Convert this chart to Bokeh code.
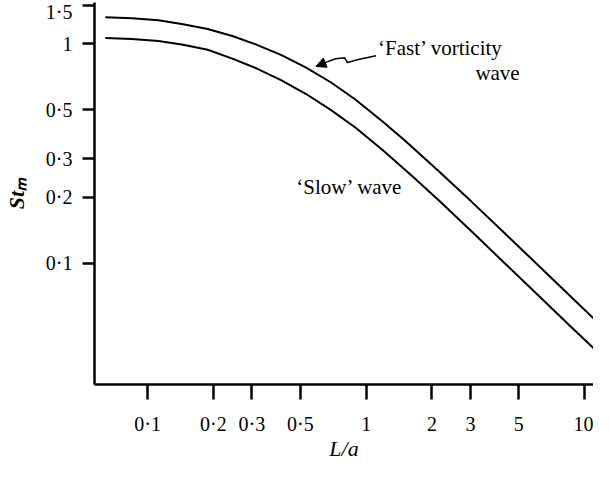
from bokeh.plotting import figure
from bokeh.models import FixedTicker, CustomJSTickFormatter, Range1d, Arrow, NormalHead
from bokeh.core.properties import value
from bokeh.embed import file_html
from bokeh.resources import INLINE

# 'Fast' vorticity wave (upper curve)
fast_L = [0.0640, 0.0847, 0.1121, 0.1453, 0.1883, 0.2440, 0.3162, 0.4099, 0.5312, 0.6884,
          0.8923, 1.193, 1.499, 2.132, 3.034, 4.272, 6.078, 8.560, 11.33]
fast_St = [1.322, 1.308, 1.281, 1.229, 1.168, 1.086, 0.990, 0.888, 0.780, 0.6686,
           0.558, 0.4422, 0.3635, 0.2651, 0.1912, 0.1383, 0.0988, 0.0712, 0.0545]

# 'Slow' wave (lower curve)
slow_L = [0.0640, 0.0847, 0.1121, 0.1453, 0.1883, 0.2440, 0.3162, 0.4099, 0.5312, 0.6884,
          0.8923, 1.193, 1.628, 2.154, 3.034, 4.272, 6.078, 8.560, 11.33]
slow_St = [1.064, 1.053, 1.031, 0.990, 0.940, 0.856, 0.772, 0.682, 0.591, 0.5006,
           0.4158, 0.3279, 0.2496, 0.1936, 0.1400, 0.1010, 0.0722, 0.0520, 0.0399]

x_ticks = [0.1, 0.2, 0.3, 0.5, 1, 2, 3, 5, 10]
x_tick_labels = ["0·1", "0·2", "0·3", "0·5", "1", "2", "3", "5", "10"]
y_ticks = [0.1, 0.2, 0.3, 0.5, 1, 1.5]
y_tick_labels = ["0·1", "0·2", "0·3", "0·5", "1", "1·5"]

x_title = "L/a"
y_title = "Stₘ"

ann_text = ["‘Fast’ vorticity", "wave", "‘Slow’ wave"]
ann_x = [1.133, 3.162, 0.4788]
ann_y = [0.9596, 0.7337, 0.2238]

arrow_x = [1.109, 0.9204, 0.821, 0.796, 0.725, 0.667, 0.589]
arrow_y = [0.8835, 0.848, 0.822, 0.865, 0.856, 0.830, 0.789]

FONT = "Liberation Serif"

p = figure(width=593, height=463, x_axis_type="log", y_axis_type="log",
           x_range=Range1d(0.0571, 10.98), y_range=Range1d(0.02808, 1.543),
           output_backend="svg", toolbar_location=None,
           min_border_left=86, min_border_right=0, min_border_top=2, min_border_bottom=73)
p.outline_line_color = None
p.grid.visible = False
p.background_fill_color = "white"
p.border_fill_color = "white"

p.line(fast_L, fast_St, line_color="black", line_width=2)
p.line(slow_L, slow_St, line_color="black", line_width=2)

code = """
for (let i = 0; i < tv.length; i++) {
  if (Math.abs(tv[i] - tick) <= 1e-9 * tv[i]) { return tl[i]; }
}
return "";
"""

ax = p.xaxis[0]
ax.ticker = FixedTicker(ticks=x_ticks, minor_ticks=[])
ax.formatter = CustomJSTickFormatter(args=dict(tv=x_ticks, tl=x_tick_labels), code=code)
ay = p.yaxis[0]
ay.ticker = FixedTicker(ticks=y_ticks, minor_ticks=[])
ay.formatter = CustomJSTickFormatter(args=dict(tv=y_ticks, tl=y_tick_labels), code=code)

for a in (ax, ay):
    a.axis_line_width = 2.5
    a.axis_line_color = "black"
    a.major_tick_line_width = 2.5
    a.major_tick_line_color = "black"
    a.major_tick_in = 0
    a.minor_tick_in = 0
    a.minor_tick_out = 0
    a.major_label_text_font = FONT
    a.major_label_text_font_size = "20px"
    a.major_label_text_color = "black"
    a.axis_label_text_font = FONT
    a.axis_label_text_font_style = "italic"
    a.axis_label_text_font_size = "22px"
    a.axis_label_text_color = "black"

ax.major_tick_out = 15
ax.major_label_standoff = 13
ax.axis_label = x_title
ax.axis_label_standoff = -2

ay.major_tick_out = 12
ay.major_label_standoff = 10
ay.axis_label = y_title
ay.axis_label_standoff = 14
ay.axis_label_text_font_style = "bold italic"

p.text(x=ann_x, y=ann_y, text=ann_text, text_font=value(FONT), text_font_size="21px",
       text_align="left", text_baseline="alphabetic", text_color="black")

p.line(arrow_x[:-1], arrow_y[:-1], line_color="black", line_width=1.5)
p.add_layout(Arrow(end=NormalHead(size=10, fill_color="black", line_color="black"),
                   x_start=arrow_x[-2], y_start=arrow_y[-2],
                   x_end=arrow_x[-1], y_end=arrow_y[-1],
                   line_color="black", line_width=1.5))

open("out.html", "w").write(file_html(p, INLINE))
